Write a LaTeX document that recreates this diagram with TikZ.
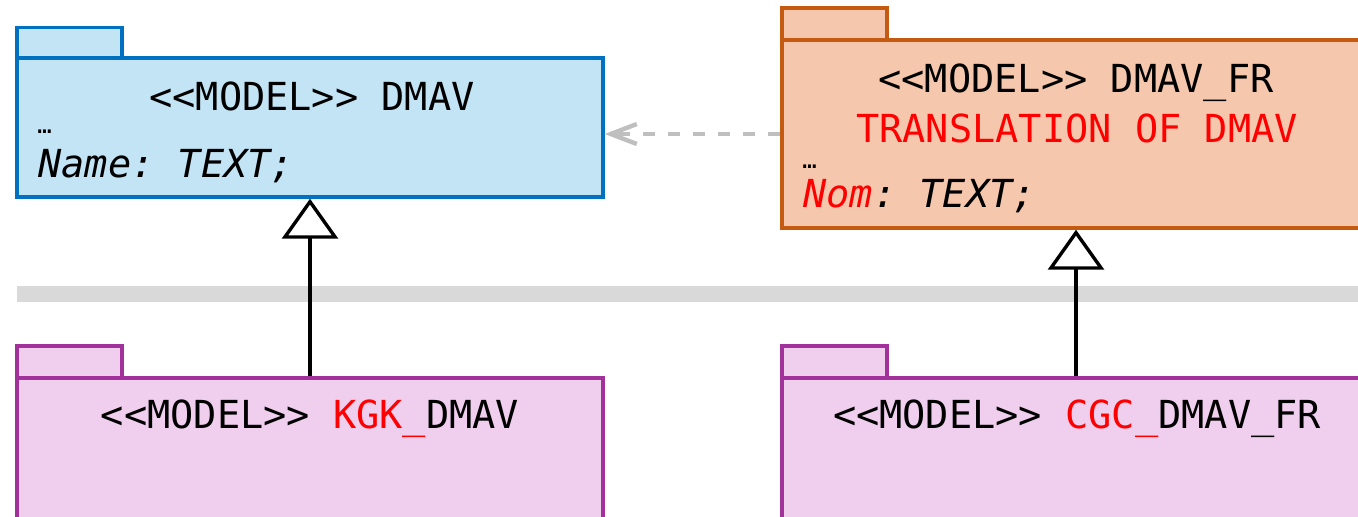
\documentclass[tikz,border=0pt]{standalone}
\usepackage{fontspec}
\setmonofont{DejaVu Sans Mono}
\usetikzlibrary{arrows.meta}
\definecolor{dmavline}{HTML}{0070C0}
\definecolor{dmavfill}{HTML}{C2E4F5}
\definecolor{frline}{HTML}{C55A11}
\definecolor{frfill}{HTML}{F5C7AD}
\definecolor{extline}{HTML}{A2319B}
\definecolor{extfill}{HTML}{F0CEEE}
\definecolor{bandgray}{HTML}{D9D9D9}
\definecolor{linkgray}{HTML}{BFBFBF}

\begin{document}
\begin{tikzpicture}[x=0.5pt, y=-0.5pt,
  every node/.style={font=\ttfamily\fontsize{19.3}{23}\selectfont, inner sep=0pt},
  pkg/.style={shape=rectangle, line width=1.7pt},
  tab/.style={pkg, minimum width=52.5pt, minimum height=15.5pt},
  dots/.style={anchor=base west, font=\ttfamily\fontsize{12}{14}\selectfont},
  inherit/.style={-{Triangle[open, length=20pt, width=28pt]}, line width=1.7pt},
  translink/.style={linkgray, line width=2.2pt, dash pattern=on 6pt off 6.5pt,
    -{Straight Barb[length=13pt, width=10pt]}}]
\useasboundingbox (0,0) rectangle (1358,516);
\clip (0,0) rectangle (1358,516);

% gray band
\fill[bandgray] (17,286) rectangle (1370,302);

% DMAV
\node[pkg, tab, draw=dmavline, fill=dmavfill] (dmavtab) at (69.5,43) {};
\node[pkg, draw=dmavline, fill=dmavfill, minimum width=293pt, minimum height=69.5pt] (dmav) at (310,127.5) {};
\node[anchor=base] (dmavname) at (312,110) {<<MODEL>> DMAV};
\node[dots] (dmavdots) at (37,133) {…};
\node[anchor=base west] (dmavattr) at (38,177) {\itshape Name: TEXT;};

% DMAV_FR
\node[pkg, tab, draw=frline, fill=frfill, minimum height=16pt] (frtab) at (834.5,24) {};
\node[pkg, draw=frline, fill=frfill, minimum width=294pt, minimum height=94pt] (dmavfr) at (1076,134) {};
\node[anchor=base] (frname) at (1076,92) {<<MODEL>> DMAV\_FR};
\node[anchor=base, text=red] (frnote) at (1077,142) {TRANSLATION OF DMAV};
\node[dots] (frdots) at (802,168) {…};
\node[anchor=base west] (frattr) at (803,207) {\itshape{\color{red}Nom}: TEXT;};

% KGK_DMAV
\node[pkg, tab, draw=extline, fill=extfill, minimum height=16pt] (kgktab) at (69.5,362) {};
\node[pkg, draw=extline, fill=extfill, minimum width=293pt, minimum height=81pt] (kgk) at (310,459) {};
\node[anchor=base] (kgkname) at (310,428) {<<MODEL>> {\color{red}KGK\_}DMAV};

% CGC_DMAV_FR
\node[pkg, tab, draw=extline, fill=extfill, minimum height=16pt] (cgctab) at (834.5,362) {};
\node[pkg, draw=extline, fill=extfill, minimum width=294pt, minimum height=81pt] (cgc) at (1076,459) {};
\node[anchor=base] (cgcname) at (1077,428) {<<MODEL>> {\color{red}CGC\_}DMAV\_FR};

% links
\draw[inherit] (kgk.north) -- (dmav.south);
\draw[inherit] (cgc.north) -- (dmavfr.south);
\draw[translink] (dmavfr.west) -- (dmavfr.west -| dmav.east);
\end{tikzpicture}
\end{document}
